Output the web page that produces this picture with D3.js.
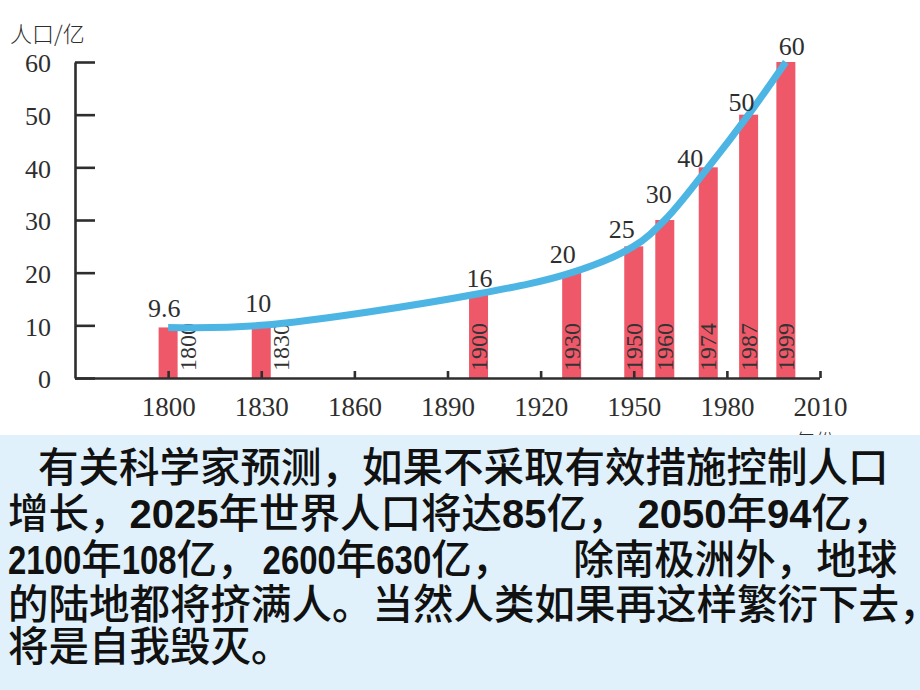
<!DOCTYPE html>
<html>
<head>
<meta charset="utf-8">
<script src="https://cdn.jsdelivr.net/npm/d3@7"></script>
<style>
  html, body { margin: 0; padding: 0; background: #ffffff; }
  svg { display: block; }
</style>
</head>
<body>
<svg id="chart" width="920" height="690"></svg>
<script>
// ---------------- data ----------------
const years = [1800, 1830, 1900, 1930, 1950, 1960, 1974, 1987, 1999];
const population = [9.6, 10, 16, 20, 25, 30, 40, 50, 60];
const valueLabels = ["9.6", "10", "16", "20", "25", "30", "40", "50", "60"];
const xTickValues = [1800, 1830, 1860, 1890, 1920, 1950, 1980, 2010];
const yTickValues = [0, 10, 20, 30, 40, 50, 60];
const yAxisTitle = "人口/亿";
const xAxisTitle = "年份";
// paragraph text, split into Chinese runs and bold number runs
const line1 = ["有关科学家预测，如果不采取有效措施控制人口"];
const line2 = ["增长，", "2025", "年世界人口将达", "85", "亿，", "2050", "年", "94", "亿，"];
const line3 = ["2100", "年", "108", "亿，", "2600", "年", "630", "亿，", "除南极洲外，地球"];
const line4 = ["的陆地都将挤满人。当然人类如果再这样繁衍下去，"];
const line5 = ["将是自我毁灭。"];

// ---------------- layout / style ----------------
const SERIF = "'Liberation Serif', 'Times New Roman', 'DejaVu Serif', serif";
const CJK = "'Noto Sans CJK SC', sans-serif";
const NUM = "'Liberation Sans', Arial, sans-serif";
const svg = d3.select("#chart");
svg.append("rect").attr("width", 920).attr("height", 690).attr("fill", "#ffffff");

const ink = "#2e2e2e";

const xs = d3.scaleLinear().domain([1770, 2010]).range([75, 820]);
const ys = d3.scaleLinear().domain([0, 60]).range([378, 62]);

// axis titles
svg.append("text").style("font-family", CJK).attr("x", 10).attr("y", 42).style("font-size", "22px")
  .style("font-weight", 300).attr("fill", ink).text(yAxisTitle);
svg.append("text").style("font-family", CJK).attr("x", 815).attr("y", 449).attr("text-anchor", "middle")
  .style("font-size", "20px").style("font-weight", 300).attr("fill", ink).text(xAxisTitle);

// bars
const data = years.map((y, i) => ({ year: y, value: population[i], label: valueLabels[i] }));
const bw = 19;
svg.append("g").selectAll("rect").data(data).join("rect")
  .attr("x", d => xs(d.year) - bw / 2)
  .attr("y", d => ys(d.value))
  .attr("width", bw)
  .attr("height", d => ys(0) - ys(d.value))
  .attr("fill", "#ef5868");

// rotated year labels
svg.append("g").selectAll("text").data(data).join("text")
  .style("font-family", SERIF).style("font-size", "24px")
  .attr("transform", d => `translate(${xs(d.year) + (d.value < 12 ? 20 : 0)},371) rotate(-90)`)
  .attr("text-anchor", "start")
  .attr("dy", "0.34em")
  .attr("fill", "#333")
  .text(d => d.year);

// y axis
const yAxis = d3.axisLeft(ys).tickValues(yTickValues).tickSizeInner(-20).tickSizeOuter(0).tickPadding(24);
const gy = svg.append("g").attr("transform", "translate(75,0)").call(yAxis);
gy.attr("font-family", null).attr("font-size", null);
gy.selectAll("path,line").attr("stroke", ink).attr("stroke-width", 2.6);
gy.selectAll("text").style("font-family", SERIF).style("font-size", "26px").attr("fill", ink).attr("dy", "0.38em");

// x axis
const xAxis = d3.axisBottom(xs).tickValues(xTickValues).tickFormat(d3.format("d")).tickSizeInner(-7).tickSizeOuter(0).tickPadding(19);
const gx = svg.append("g").attr("transform", "translate(0,378)").call(xAxis);
gx.attr("font-family", null).attr("font-size", null);
gx.select("path.domain").attr("d", `M75,0.5H${xs(2010)}`);
gx.selectAll("path,line").attr("stroke", ink).attr("stroke-width", 2.6);
gx.selectAll("text").style("font-family", SERIF).style("font-size", "27px").attr("fill", ink);

// trend curve
const line = d3.line().x(d => xs(d.year)).y(d => ys(d.value)).curve(d3.curveCatmullRom.alpha(0.5));
svg.append("path").datum(data).attr("d", line)
  .attr("fill", "none").attr("stroke", "#4cb5e4").attr("stroke-width", 7).attr("stroke-linecap", "butt");

// value labels (small nudges so they sit beside the curve)
const labelDx = [-4, -3, 1, -9, -12, -6, -18, -7, 6];
const labelDy = [-10, -13, -7, -10, -8, -17, 0, -4, -7];
svg.append("g").selectAll("text").data(data).join("text")
  .style("font-family", SERIF).style("font-size", "26px")
  .attr("x", (d, i) => xs(d.year) + labelDx[i])
  .attr("y", (d, i) => ys(d.value) + labelDy[i])
  .attr("text-anchor", "middle")
  .attr("fill", ink)
  .text(d => d.label);

// text panel
svg.append("rect").attr("x", 0).attr("y", 435).attr("width", 920).attr("height", 255).attr("fill", "#e0f1fb");
const cjkSize = 40.5;
const lineLayout = [
  { runs: line1, x: 38, y: 482, digitW: null, gaps: {} },
  { runs: line2, x: 8,  y: 528, digitW: null, gaps: { 5: 10 } },
  { runs: line3, x: 8,  y: 574, digitW: 18.3, gaps: { 4: 5, 8: 61 } },
  { runs: line4, x: 8,  y: 619, digitW: null, gaps: {} },
  { runs: line5, x: 8,  y: 661, digitW: null, gaps: {} }
];
const isNum = s => /^[0-9]+$/.test(s);
lineLayout.forEach(l => {
  let cx = l.x;
  l.runs.forEach((s, i) => {
    cx += (l.gaps[i] || 0);
    const num = isNum(s);
    const t = svg.append("text")
      .style("font-family", num ? NUM : CJK)
      .style("font-size", (num ? 40 : cjkSize) + "px")
      .style("font-weight", num ? 700 : 500)
      .attr("x", 0).attr("y", 0)
      .attr("fill", "#111")
      .text(s);
    const w0 = t.node().getComputedTextLength();
    let w = w0;
    let sx = 1;
    if (num && l.digitW) {
      w = l.digitW * s.length;
      sx = w / w0;
    }
    t.attr("transform", `translate(${cx},${l.y}) scale(${sx},1)`);
    cx += w;
  });
});
</script>
</body>
</html>
